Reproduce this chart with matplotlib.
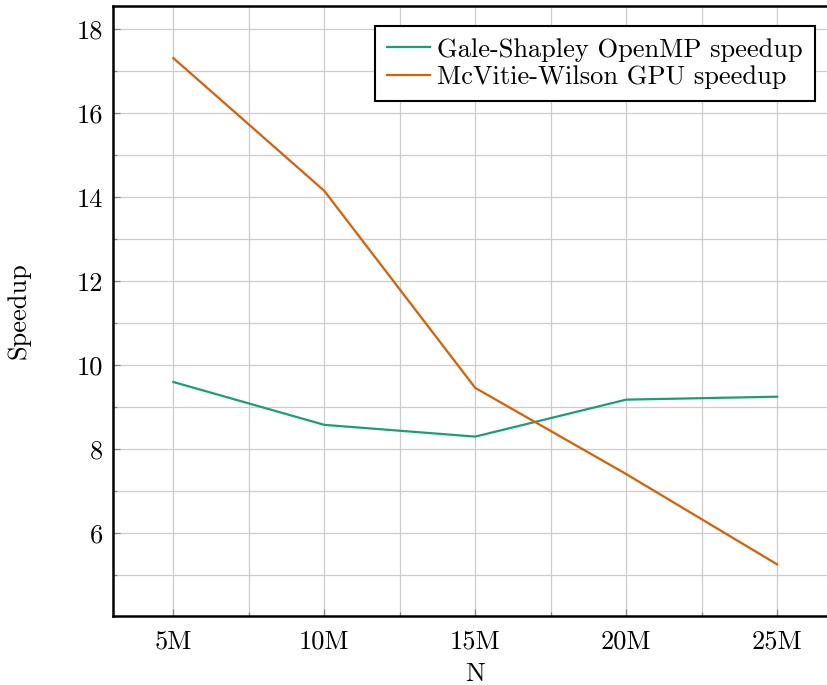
import numpy as np
import matplotlib
matplotlib.use("Agg")
import matplotlib.pyplot as plt
from matplotlib.ticker import MultipleLocator, FuncFormatter

plt.rcParams['font.family'] = ['cmr10', 'DejaVu Serif']
plt.rcParams['mathtext.fontset'] = 'cm'
plt.rcParams['axes.unicode_minus'] = False

n_millions = [5, 10, 15, 20, 25]
gale_shapley_omp = [9.60, 8.58, 8.30, 9.18, 9.25]
mcvitie_wilson_gpu = [17.31, 14.15, 9.46, 7.41, 5.26]

green = '#1b9e77'
orange = '#d95f02'
fs = 19

fig = plt.figure(figsize=(8.28, 6.85), dpi=100)
# right edge of the box lies just past the image, as in the reference
ax = fig.add_axes([113 / 828, 1 - 616 / 685, (837.4 - 113) / 828, (616 - 6) / 685])

ax.plot(n_millions, gale_shapley_omp, color=green, lw=1.6, label='Gale-Shapley OpenMP speedup')
ax.plot(n_millions, mcvitie_wilson_gpu, color=orange, lw=1.6, label='McVitie-Wilson GPU speedup')

ax.set_xlim(3, 27)
ax.set_ylim(4.03, 18.55)
ax.xaxis.set_major_locator(MultipleLocator(5))
ax.xaxis.set_minor_locator(MultipleLocator(2.5))
ax.yaxis.set_major_locator(MultipleLocator(2))
ax.yaxis.set_minor_locator(MultipleLocator(1))
ax.xaxis.set_major_formatter(FuncFormatter(lambda v, p: f'{int(v)}M'))

ax.grid(which='both', color='#cccccc', lw=0.9)
ax.set_axisbelow(True)
ax.tick_params(which='both', direction='in', color='#888888', labelsize=fs)
ax.tick_params(which='major', length=5, width=0.9)
ax.tick_params(which='minor', length=3, width=0.9)
ax.tick_params(axis='y', which='major', pad=7)
ax.tick_params(axis='x', which='major', pad=10)
for s in ax.spines.values():
    s.set_linewidth(1.8)
    s.set_color('black')

ax.set_xlabel('N', fontsize=fs, labelpad=6.5)
ax.set_ylabel('Speedup', fontsize=fs, labelpad=33)

leg = ax.legend(loc='upper right', bbox_to_anchor=((815 - 113) / (837.4 - 113), 1 - 20 / 610),
                fontsize=fs, fancybox=False, framealpha=1, edgecolor='black',
                handlelength=1.6, handletextpad=0.3, borderpad=0.45, labelspacing=0.15,
                borderaxespad=0)
leg.get_frame().set_linewidth(1.5)

fig.savefig('out.png', dpi=100)
